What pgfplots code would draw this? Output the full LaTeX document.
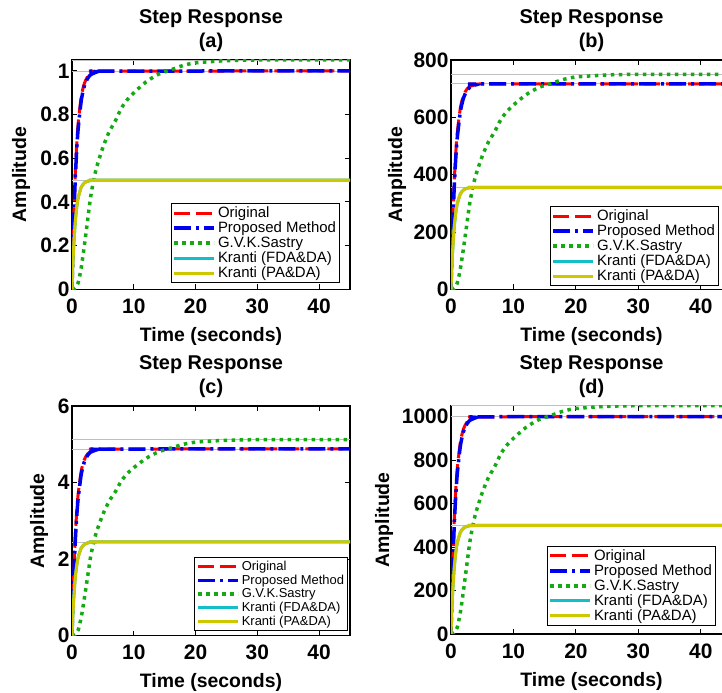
\documentclass[border=0pt]{standalone}
\usepackage{fontspec}
\setmainfont{Liberation Sans}
\usepackage{pgfplots}
\usepackage{pgfplotstable}
\pgfplotsset{compat=1.18}

\definecolor{mred}{RGB}{255,0,0}
\definecolor{mblue}{RGB}{0,0,240}
\definecolor{mgreen}{RGB}{20,170,20}
\definecolor{mcyan}{RGB}{20,190,200}
\definecolor{myel}{RGB}{205,200,0}

% fast responses: t Original Proposed Kranti
\pgfplotstableread{
t O P K
0 0 0 0
0.1 0.133 0.125 0.083
0.25 0.300 0.283 0.1825
0.5 0.510 0.487 0.2985
0.75 0.657 0.632 0.372
1 0.760 0.736 0.419
1.5 0.883 0.865 0.4675
2 0.943 0.931 0.487
2.5 0.972 0.964 0.4945
3 0.986 0.982 0.498
4 0.997 0.995 0.4995
5 0.999 0.999 0.5
45 1 1 0.5
}\fastA
\pgfplotstableread{
t O P K
0 0 0 0
0.1 95.4 89.6 59.1
0.25 215.1 202.9 129.9
0.5 365.7 349.2 212.5
0.75 471.1 453.1 264.9
1 544.9 527.7 298.3
1.5 633.1 620.2 332.9
2 676.1 667.5 346.7
2.5 696.9 691.2 352.1
3 707.0 704.1 354.6
4 714.8 713.4 355.6
5 716.3 716.3 356
45 717 717 356
}\fastB
\pgfplotstableread{
t O P K
0 0 0 0
0.1 0.649 0.610 0.407
0.25 1.464 1.381 0.894
0.5 2.489 2.377 1.463
0.75 3.206 3.084 1.823
1 3.709 3.592 2.053
1.5 4.309 4.221 2.291
2 4.602 4.543 2.386
2.5 4.743 4.704 2.423
3 4.812 4.792 2.440
4 4.865 4.856 2.448
5 4.875 4.875 2.45
45 4.88 4.88 2.45
}\fastC
\pgfplotstableread{
t O P K
0 0 0 0
0.1 133 125 83
0.25 300 283 182.5
0.5 510 487 298.5
0.75 657 632 372
1 760 736 419
1.5 883 865 467.5
2 943 931 487
2.5 972 964 494.5
3 986 982 498
4 997 995 499.5
5 999 999 500
45 1000 1000 500
}\fastD
% G.V.K.Sastry: t a b c d
\pgfplotstableread{
t a b c d
0 0 0 0 0
0.5 0.005 3.6 0.0246 5
1 0.03 21.4 0.146 30
1.5 0.1 71.4 0.487 100
2 0.2 142.9 0.975 200
2.5 0.31 221.4 1.511 310
3 0.42 300 2.048 420
3.5 0.5 357.1 2.438 500
4 0.56 400 2.731 560
5 0.65 464.3 3.169 650
6 0.72 514.3 3.511 720
7 0.77 550 3.755 770
8 0.83 592.9 4.047 830
9 0.87 621.4 4.242 870
10 0.9 642.9 4.389 900
12 0.95 678.6 4.632 950
14 0.985 703.6 4.803 985
16 1.005 717.9 4.901 1005
18 1.025 732.1 4.998 1025
20 1.037 740.7 5.056 1037
25 1.047 747.9 5.105 1047
30 1.05 750 5.12 1050
45 1.05 750 5.12 1050
}\slow

\pgfplotsset{
  stepax/.style={
    scale only axis,
    xmin=0, xmax=45,
    xtick={0,10,20,30,40},
    tick align=inside,
    major tick length=5bp,
    axis line style={line width=1.2bp, black},
    every tick/.style={black, line width=0.9bp},
    /pgf/number format/assume math mode=true,
    /pgf/number format/1000 sep={},
    ticklabel style={font=\bfseries\fontsize{21}{23}\selectfont},
    xticklabel style={yshift=-6bp},
    yticklabel style={xshift=1bp},
    label style={font=\bfseries\fontsize{19.5}{22}\selectfont},
    xlabel={Time (seconds)},
    ylabel={Amplitude},
    xlabel style={at={(rel axis cs:0.5,0)}, anchor=center, yshift=-47bp},
    title style={at={(rel axis cs:0.5,1)}, anchor=south, yshift=1bp, inner sep=1bp,
      align=center, font=\bfseries\fontsize{20}{24}\selectfont},
    legend cell align=left,
    legend style={draw=black, line width=1bp, fill=white, inner sep=1.5bp,
      font=\fontsize{15}{17.6}\selectfont, row sep=-1.2bp, anchor=south east},
    legend image code/.code={\draw[#1] (0bp,0bp) -- (40bp,0bp);},
    clip=true,
  },
  origl/.style={mred, line width=3bp, dash pattern=on 16bp off 6bp, smooth, tension=0.4},
  propl/.style={mblue, line width=3.5bp, dash pattern=on 17bp off 5bp on 3bp off 5bp, smooth, tension=0.4},
  sastl/.style={mgreen, line width=3.5bp, dash pattern=on 3.5bp off 4.5bp, smooth, tension=0.4},
  kfdl/.style={mcyan, line width=3bp, smooth, tension=0.4},
  kpal/.style={myel, line width=3bp, smooth, tension=0.4},
  refl/.style={black!25, line width=0.6bp, forget plot},
}

\begin{document}
\begin{tikzpicture}
\useasboundingbox (0bp,0bp) rectangle (722bp,693bp);
\clip (0bp,0bp) rectangle (722bp,693bp);

% (a)
\begin{axis}[stepax, at={(72bp,403.7bp)}, anchor=south west, width=278bp, height=229.3bp,
  ymin=0, ymax=1.05, ytick={0,0.2,0.4,0.6,0.8,1},
  title={Step Response\\(a)},
  ylabel style={at={(rel axis cs:0,0.5)}, anchor=center, yshift=51bp},
  legend style={at={(rel axis cs:0.964,0.026)}}]
\addplot[refl] coordinates {(0,1) (45,1)};
\addplot[refl] coordinates {(0,1.05) (45,1.05)};
\addplot[refl] coordinates {(0,0.5) (45,0.5)};
\addplot[origl] table[x=t,y=O] {\fastA};
\addplot[propl] table[x=t,y=P] {\fastA};
\addplot[sastl] table[x=t,y=a] {\slow};
\addplot[kfdl] table[x=t,y=K] {\fastA};
\addplot[kpal] table[x=t,y=K] {\fastA};
\legend{Original,Proposed Method,G.V.K.Sastry,Kranti (FDA\&DA),Kranti (PA\&DA)}
\end{axis}

% (b)
\begin{axis}[stepax, at={(451bp,403.7bp)}, anchor=south west, width=281bp, height=229.3bp,
  ymin=0, ymax=800, ytick={0,200,400,600,800},
  title={Step Response\\(b)},
  ylabel style={at={(rel axis cs:0,0.5)}, anchor=center, yshift=54bp},
  legend style={at={(rel axis cs:0.954,0.013)}}]
\addplot[refl] coordinates {(0,717) (45,717)};
\addplot[refl] coordinates {(0,750) (45,750)};
\addplot[refl] coordinates {(0,356) (45,356)};
\addplot[origl] table[x=t,y=O] {\fastB};
\addplot[propl] table[x=t,y=P] {\fastB};
\addplot[sastl] table[x=t,y=b] {\slow};
\addplot[kfdl] table[x=t,y=K] {\fastB};
\addplot[kpal] table[x=t,y=K] {\fastB};
\legend{Original,Proposed Method,G.V.K.Sastry,Kranti (FDA\&DA),Kranti (PA\&DA)}
\end{axis}

% (c)
\begin{axis}[stepax, at={(72bp,57.3bp)}, anchor=south west, width=278bp, height=229.7bp,
  ymin=0, ymax=6, ytick={0,2,4,6},
  title={Step Response\\(c)},
  ylabel style={at={(rel axis cs:0,0.5)}, anchor=center, yshift=33bp},
  legend style={at={(rel axis cs:0.993,0.022)}, font=\fontsize{13}{15.6}\selectfont}]
\addplot[refl] coordinates {(0,4.88) (45,4.88)};
\addplot[refl] coordinates {(0,5.12) (45,5.12)};
\addplot[refl] coordinates {(0,2.45) (45,2.45)};
\addplot[origl] table[x=t,y=O] {\fastC};
\addplot[propl] table[x=t,y=P] {\fastC};
\addplot[sastl] table[x=t,y=c] {\slow};
\addplot[kfdl] table[x=t,y=K] {\fastC};
\addplot[kpal] table[x=t,y=K] {\fastC};
\legend{Original,Proposed Method,G.V.K.Sastry,Kranti (FDA\&DA),Kranti (PA\&DA)}
\end{axis}

% (d)
\begin{axis}[stepax, at={(451bp,59bp)}, anchor=south west, width=281bp, height=228.3bp,
  ymin=0, ymax=1050, ytick={0,200,400,600,800,1000},
  title={Step Response\\(d)},
  ylabel style={at={(rel axis cs:0,0.5)}, anchor=center, yshift=67bp},
  legend style={at={(rel axis cs:0.943,0.035)}}]
\addplot[refl] coordinates {(0,1000) (45,1000)};
\addplot[refl] coordinates {(0,1050) (45,1050)};
\addplot[refl] coordinates {(0,500) (45,500)};
\addplot[origl] table[x=t,y=O] {\fastD};
\addplot[propl] table[x=t,y=P] {\fastD};
\addplot[sastl] table[x=t,y=d] {\slow};
\addplot[kfdl] table[x=t,y=K] {\fastD};
\addplot[kpal] table[x=t,y=K] {\fastD};
\legend{Original,Proposed Method,G.V.K.Sastry,Kranti (FDA\&DA),Kranti (PA\&DA)}
\end{axis}
\end{tikzpicture}
\end{document}
